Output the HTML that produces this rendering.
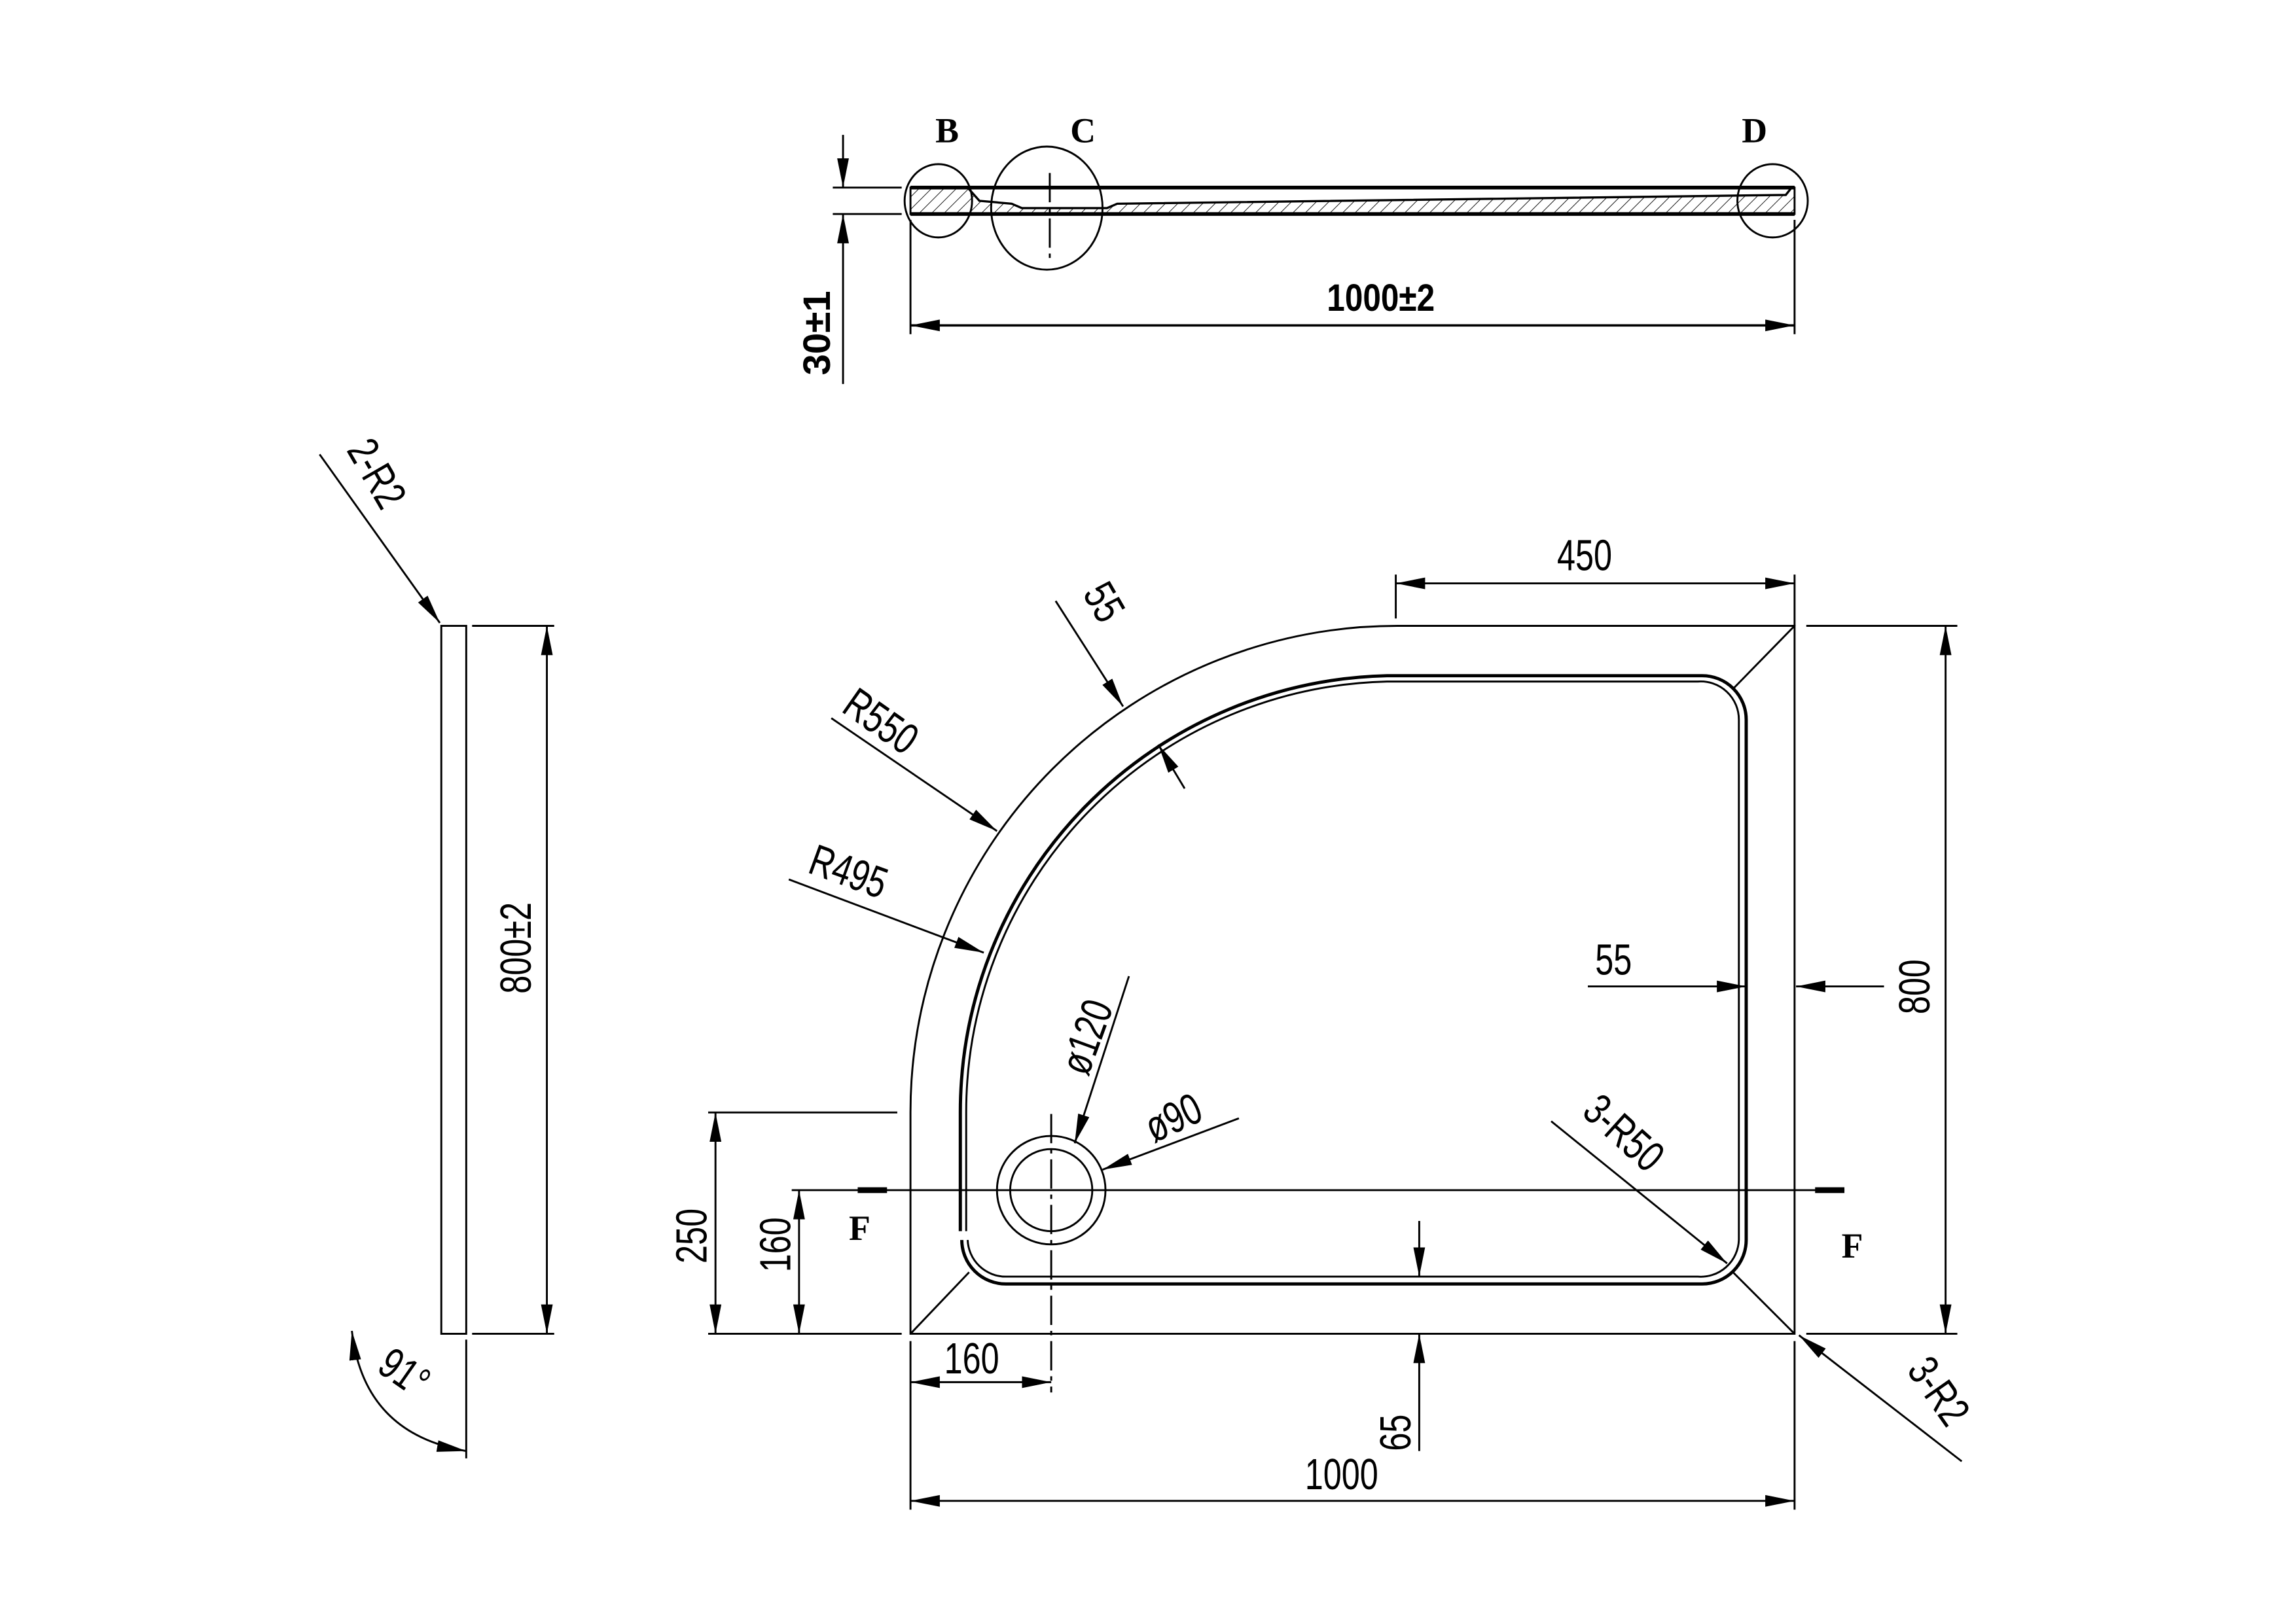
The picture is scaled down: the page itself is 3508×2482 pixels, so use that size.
<!DOCTYPE html>
<html><head><meta charset="utf-8"><style>
html,body{margin:0;padding:0;background:#fff}
svg{display:block}
text{font-family:"Liberation Sans",sans-serif;fill:#000}
.t{font-size:30px}
.b{font-family:"Liberation Serif",serif;font-weight:bold;font-size:24px}
.bs{font-weight:bold;font-size:26px}
</style></head><body>
<svg width="3508" height="2482" viewBox="0 0 1566 1108" preserveAspectRatio="none" xmlns="http://www.w3.org/2000/svg">
<defs>
<marker id="a" viewBox="0 0 20 8" refX="20" refY="4" markerWidth="20" markerHeight="8" markerUnits="userSpaceOnUse" orient="auto-start-reverse"><path d="M0,0 L20,4 L0,8 z" fill="#000"/></marker>
<pattern id="h" width="6" height="6" patternUnits="userSpaceOnUse" patternTransform="rotate(45)"><line x1="0" y1="0" x2="0" y2="6" stroke="#000" stroke-width="0.8"/></pattern>
</defs>
<g fill="none" stroke="#000" stroke-width="1.3">
<path d="M621,128 H1224 V146 H621 Z" fill="url(#h)"/>
<path d="M660,128 L668,137 L690,139 L697,142 L755,142 L762,139 L1218,133 L1222,128 Z" fill="#fff" stroke-width="1.5"/>
<line x1="621" y1="128" x2="1224" y2="128" stroke-width="2.5"/>
<line x1="621" y1="146" x2="1224" y2="146" stroke-width="2.5"/>
<ellipse cx="640" cy="137" rx="23" ry="25"/>
<ellipse cx="714" cy="142" rx="38" ry="42"/>
<line x1="716" y1="118" x2="716" y2="180" stroke-dasharray="20,4,3,4"/>
<ellipse cx="1209" cy="137" rx="24" ry="25"/>
<line x1="568" y1="128" x2="615" y2="128"/>
<line x1="568" y1="146" x2="615" y2="146"/>
<line x1="575" y1="92" x2="575" y2="128" marker-end="url(#a)"/>
<line x1="575" y1="262" x2="575" y2="146" marker-end="url(#a)"/>
<line x1="621" y1="150" x2="621" y2="228"/>
<line x1="1224" y1="150" x2="1224" y2="228"/>
<line x1="621" y1="222" x2="1224" y2="222" marker-start="url(#a)" marker-end="url(#a)" stroke-width="1.6"/>

<rect x="301" y="427" width="17" height="483"/>
<line x1="322" y1="427" x2="378" y2="427"/>
<line x1="322" y1="910" x2="378" y2="910"/>
<line x1="373" y1="427" x2="373" y2="910" marker-start="url(#a)" marker-end="url(#a)"/>
<line x1="218" y1="310" x2="300" y2="425" marker-end="url(#a)"/>
<line x1="318" y1="914" x2="318" y2="995"/>
<path d="M240,908 Q248,978 318,990" marker-start="url(#a)" marker-end="url(#a)"/>

<path d="M621,910 V759 A332,332 0 0 1 953,427 H1224 V910 Z"/>
<path d="M655,840 V759 A298,298 0 0 1 946,461 L1161,461 A30,30 0 0 1 1191,491 V846 A30,30 0 0 1 1161,876 H686 A30,30 0 0 1 656,846" stroke-width="2.2"/>
<path d="M659,840 V759 A294,294 0 0 1 946,465 L1158,465 A26,26 0 0 1 1186,491 V846 A26,26 0 0 1 1158,871 H686 A26,26 0 0 1 660,846"/>
<line x1="1224" y1="427" x2="1182" y2="470"/>
<line x1="621" y1="910" x2="661" y2="868"/>
<line x1="1224" y1="910" x2="1182" y2="868"/>
<circle cx="717" cy="812" r="37"/>
<circle cx="717" cy="812" r="28"/>
<line x1="717" y1="760" x2="717" y2="950" stroke-dasharray="20,4,3,4"/>
<line x1="540" y1="812" x2="1258" y2="812"/>
<line x1="585" y1="812" x2="605" y2="812" stroke-width="4"/>
<line x1="1238" y1="812" x2="1258" y2="812" stroke-width="4"/>
<line x1="952" y1="392" x2="952" y2="422"/>
<line x1="1224" y1="392" x2="1224" y2="427"/>
<line x1="952" y1="398" x2="1224" y2="398" marker-start="url(#a)" marker-end="url(#a)"/>
<line x1="1232" y1="427" x2="1335" y2="427"/>
<line x1="1232" y1="910" x2="1335" y2="910"/>
<line x1="1327" y1="427" x2="1327" y2="910" marker-start="url(#a)" marker-end="url(#a)"/>
<line x1="1083" y1="673" x2="1191" y2="673" marker-end="url(#a)"/>
<line x1="1285" y1="673" x2="1225" y2="673" marker-end="url(#a)"/>
<line x1="621" y1="915" x2="621" y2="1030"/>
<line x1="1224" y1="915" x2="1224" y2="1030"/>
<line x1="621" y1="1024" x2="1224" y2="1024" marker-start="url(#a)" marker-end="url(#a)"/>
<line x1="968" y1="833" x2="968" y2="871" marker-end="url(#a)"/>
<line x1="968" y1="990" x2="968" y2="910" marker-end="url(#a)"/>
<line x1="621" y1="943" x2="717" y2="943" marker-start="url(#a)" marker-end="url(#a)"/>
<line x1="483" y1="759" x2="612" y2="759"/>
<line x1="483" y1="910" x2="615" y2="910"/>
<line x1="488" y1="759" x2="488" y2="910" marker-start="url(#a)" marker-end="url(#a)"/>
<line x1="545" y1="812" x2="545" y2="910" marker-start="url(#a)" marker-end="url(#a)"/>
<line x1="770" y1="666" x2="733" y2="780" marker-end="url(#a)"/>
<line x1="845" y1="763" x2="752" y2="798" marker-end="url(#a)"/>
<line x1="1058" y1="765" x2="1178" y2="862" marker-end="url(#a)"/>
<line x1="1338" y1="997" x2="1227" y2="911" marker-end="url(#a)"/>
<line x1="538" y1="600" x2="671" y2="650" marker-end="url(#a)"/>
<line x1="567" y1="490" x2="680" y2="567" marker-end="url(#a)"/>
<line x1="720" y1="410" x2="766" y2="482" marker-end="url(#a)"/>
<line x1="808" y1="538" x2="790" y2="508" marker-end="url(#a)"/>
</g>
<g>
<text class="b" x="638" y="97">B</text>
<text class="b" x="730" y="97">C</text>
<text class="b" x="1188" y="97">D</text>
<text class="bs" transform="translate(905 212) scale(0.85 1)">1000±2</text>
<text class="bs" transform="translate(566 256) rotate(-90)">30±1</text>
<text class="b" x="579" y="846">F</text>
<text class="b" x="1256" y="858">F</text>
<g class="t">
<text transform="translate(1062 389) scale(0.75 1)">450</text>
<text transform="translate(1316 692) rotate(-90) scale(0.75 1)">800</text>
<text transform="translate(1088 665) scale(0.75 1)">55</text>
<text transform="translate(890 1016) scale(0.75 1)">1000</text>
<text transform="translate(962 990) rotate(-90) scale(0.75 1)">65</text>
<text transform="translate(644 937) scale(0.75 1)">160</text>
<text transform="translate(482 862) rotate(-90) scale(0.75 1)">250</text>
<text transform="translate(539 868) rotate(-90) scale(0.75 1)">160</text>
<text transform="translate(362 678) rotate(-90) scale(0.75 1)">800±2</text>
<text transform="translate(236 307) rotate(60) scale(0.75 1)">2-R2</text>
<text transform="translate(256 935) rotate(35) scale(0.75 1)">91°</text>
<text transform="translate(742 735) rotate(-70) scale(0.75 1)">ø120</text>
<text transform="translate(787 780) rotate(-25) scale(0.75 1)">ø90</text>
<text transform="translate(1078 760) rotate(42) scale(0.75 1)">3-R50</text>
<text transform="translate(1300 935) rotate(55) scale(0.75 1)">3-R2</text>
<text transform="translate(550 595) rotate(20) scale(0.75 1)">R495</text>
<text transform="translate(573 485) rotate(35) scale(0.75 1)">R550</text>
<text transform="translate(738 405) rotate(60) scale(0.75 1)">55</text>
</g>
</g>
</svg>
</body></html>
